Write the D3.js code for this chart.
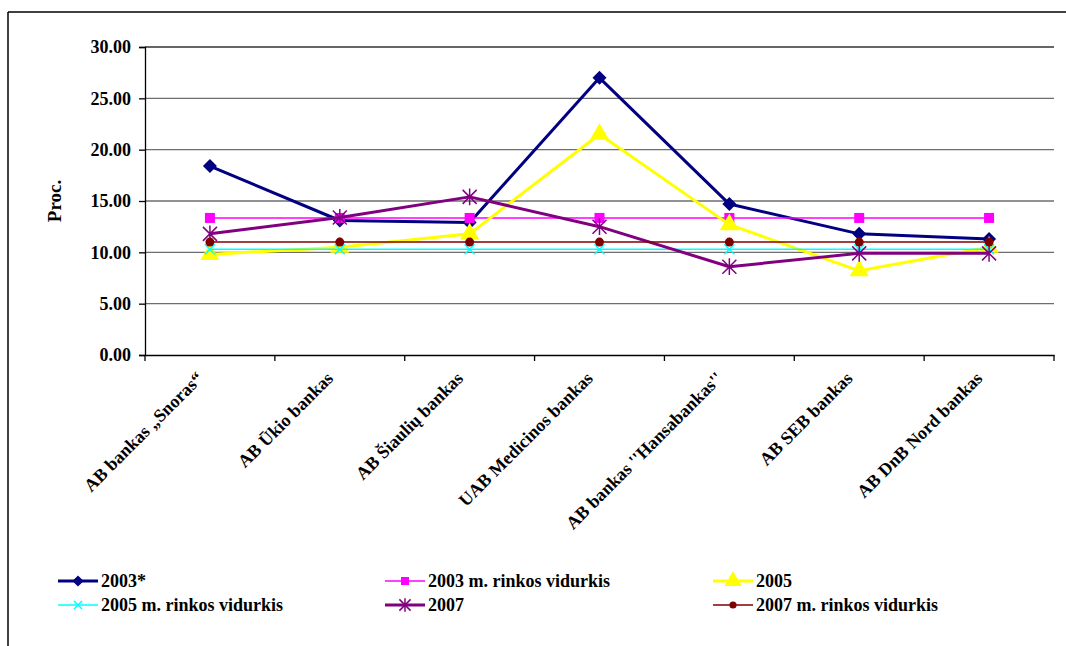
<!DOCTYPE html>
<html><head><meta charset="utf-8">
<script src="https://cdn.jsdelivr.net/npm/d3@7"></script>
<style>body{margin:0;background:#fff}svg{display:block}text{font-family:"Liberation Serif","Times New Roman",serif;font-weight:bold;fill:#000}</style>
</head><body><svg id="c" width="1066" height="646"></svg>
<script>
const categories = ["AB bankas „Snoras“", "AB Ūkio bankas", "AB Šiaulių bankas", "UAB Medicinos bankas", "AB bankas ''Hansabankas''", "AB SEB bankas", "AB DnB Nord bankas"];
const s2003 = [18.4, 13.1, 12.9, 27.0, 14.7, 11.8, 11.3];
const avg2003 = [13.35, 13.35, 13.35, 13.35, 13.35, 13.35, 13.35];
const s2005 = [9.8, 10.5, 11.8, 21.5, 12.7, 8.2, 10.5];
const avg2005 = [10.3, 10.3, 10.3, 10.3, 10.3, 10.3, 10.3];
const s2007 = [11.8, 13.4, 15.4, 12.5, 8.6, 9.9, 9.9];
const avg2007 = [11.0, 11.0, 11.0, 11.0, 11.0, 11.0, 11.0];
const yTicks = [0, 5, 10, 15, 20, 25, 30];
const seriesNames = ["2003*", "2003 m. rinkos vidurkis", "2005", "2005 m. rinkos vidurkis", "2007", "2007 m. rinkos vidurkis"];

const series = [
  {name: seriesNames[0], values: s2003, color: "#000080", w: 3, marker: "diamond"},
  {name: seriesNames[1], values: avg2003, color: "#FF00FF", w: 1.5, marker: "square"},
  {name: seriesNames[2], values: s2005, color: "#FFFF00", w: 3, marker: "triangle"},
  {name: seriesNames[3], values: avg2005, color: "#00FFFF", w: 1.5, marker: "x"},
  {name: seriesNames[4], values: s2007, color: "#800080", w: 3, marker: "star"},
  {name: seriesNames[5], values: avg2007, color: "#800000", w: 1.5, marker: "circle"}
];

const svg = d3.select("#c");
svg.append("line").attr("x1", 8).attr("x2", 1066).attr("y1", 12).attr("y2", 12).attr("stroke", "#000").attr("stroke-width", 1.5);
svg.append("line").attr("x1", 8).attr("x2", 8).attr("y1", 12).attr("y2", 646).attr("stroke", "#000").attr("stroke-width", 1.5);

const L = 145, R = 1054, T = 47, B = 355;
const x = d3.scaleBand().domain(categories).range([L, R]);
const y = d3.scaleLinear().domain([0, 30]).range([B, T]);

svg.append("g").selectAll("line").data(yTicks.filter(d => d > 0)).join("line")
  .attr("x1", L).attr("x2", R).attr("y1", d => y(d)).attr("y2", d => y(d))
  .attr("stroke", d => d === 30 ? "#333" : "#6e6e6e").attr("stroke-width", 1.3);

const ya = svg.append("g").attr("transform", `translate(${L},0)`)
  .call(d3.axisLeft(y).tickValues(yTicks).tickFormat(d3.format(".2f")).tickSize(6).tickPadding(8));
ya.select(".domain").attr("stroke", "#000").attr("stroke-width", 1.3);
ya.selectAll(".tick line").attr("stroke", "#000").attr("stroke-width", 1.3);
ya.selectAll("text").style("font-size", "18px").style("font-family", "Liberation Serif").style("font-weight", "bold");

const xa = svg.append("g").attr("transform", `translate(0,${B})`)
  .call(d3.axisBottom(x).tickSize(0).tickFormat(""));
xa.select(".domain").attr("stroke", "#000").attr("stroke-width", 1.3);
svg.append("g").selectAll("line").data(categories.concat(["__end"])).join("line")
  .attr("x1", (d, i) => L + i * x.step()).attr("x2", (d, i) => L + i * x.step())
  .attr("y1", B).attr("y2", B + 6).attr("stroke", "#000").attr("stroke-width", 1.3);

svg.append("g").selectAll("text").data(categories).join("text")
  .attr("transform", d => `translate(${x(d) + x.bandwidth() / 2 - 10},${B + 20}) rotate(-45)`)
  .attr("text-anchor", "end").attr("dy", "0.35em")
  .style("font-size", "18px").text(d => d);

svg.append("text").attr("transform", `translate(61,${(T + B) / 2}) rotate(-90)`)
  .attr("text-anchor", "middle").style("font-size", "19px").text("Proc.");

function drawMarker(g, type, color, cx, cy, big) {
  const s = big ? 1 : 0.8;
  if (type === "diamond") {
    const r = 7 * s;
    g.append("path").attr("d", `M${cx},${cy - r}L${cx + r},${cy}L${cx},${cy + r}L${cx - r},${cy}Z`).attr("fill", color);
  } else if (type === "square") {
    g.append("rect").attr("x", cx - 5 * s).attr("y", cy - 5 * s).attr("width", 10 * s).attr("height", 10 * s).attr("fill", color);
  } else if (type === "triangle") {
    g.append("path").attr("d", d3.symbol(d3.symbolTriangle, 160 * s)()).attr("transform", `translate(${cx},${cy})`).attr("fill", color);
  } else if (type === "x") {
    const r = 5 * s;
    g.append("path").attr("d", `M${cx - r},${cy - r}L${cx + r},${cy + r}M${cx - r},${cy + r}L${cx + r},${cy - r}`).attr("stroke", color).attr("stroke-width", 1.5);
  } else if (type === "star") {
    const r = 7 * s;
    g.append("path").attr("d", `M${cx - r},${cy - r}L${cx + r},${cy + r}M${cx - r},${cy + r}L${cx + r},${cy - r}M${cx},${cy - r * 1.2}L${cx},${cy + r * 1.2}`).attr("stroke", color).attr("stroke-width", 1.5);
  } else if (type === "circle") {
    g.append("circle").attr("cx", cx).attr("cy", cy).attr("r", 4.5 * s).attr("fill", color);
  }
}

const line = d3.line().x((d, i) => x(categories[i]) + x.bandwidth() / 2).y(d => y(d));
series.forEach(s => {
  const g = svg.append("g");
  g.append("path").attr("d", line(s.values)).attr("fill", "none").attr("stroke", s.color).attr("stroke-width", s.w).attr("stroke-linejoin", "round");
  s.values.forEach((v, i) => drawMarker(g, s.marker, s.color, x(categories[i]) + x.bandwidth() / 2, y(v), true));
});

const legX = [58, 385, 713], legY = [581, 605];
series.forEach((s, i) => {
  const lx = legX[i % 3], ly = legY[Math.floor(i / 3)];
  const g = svg.append("g");
  g.append("line").attr("x1", lx).attr("x2", lx + 40).attr("y1", ly).attr("y2", ly).attr("stroke", s.color).attr("stroke-width", s.w);
  drawMarker(g, s.marker, s.color, lx + 20, ly, false);
  g.append("text").attr("x", lx + 43).attr("y", ly).attr("dy", "0.35em").style("font-size", "18px").text(s.name);
});
</script></body></html>
